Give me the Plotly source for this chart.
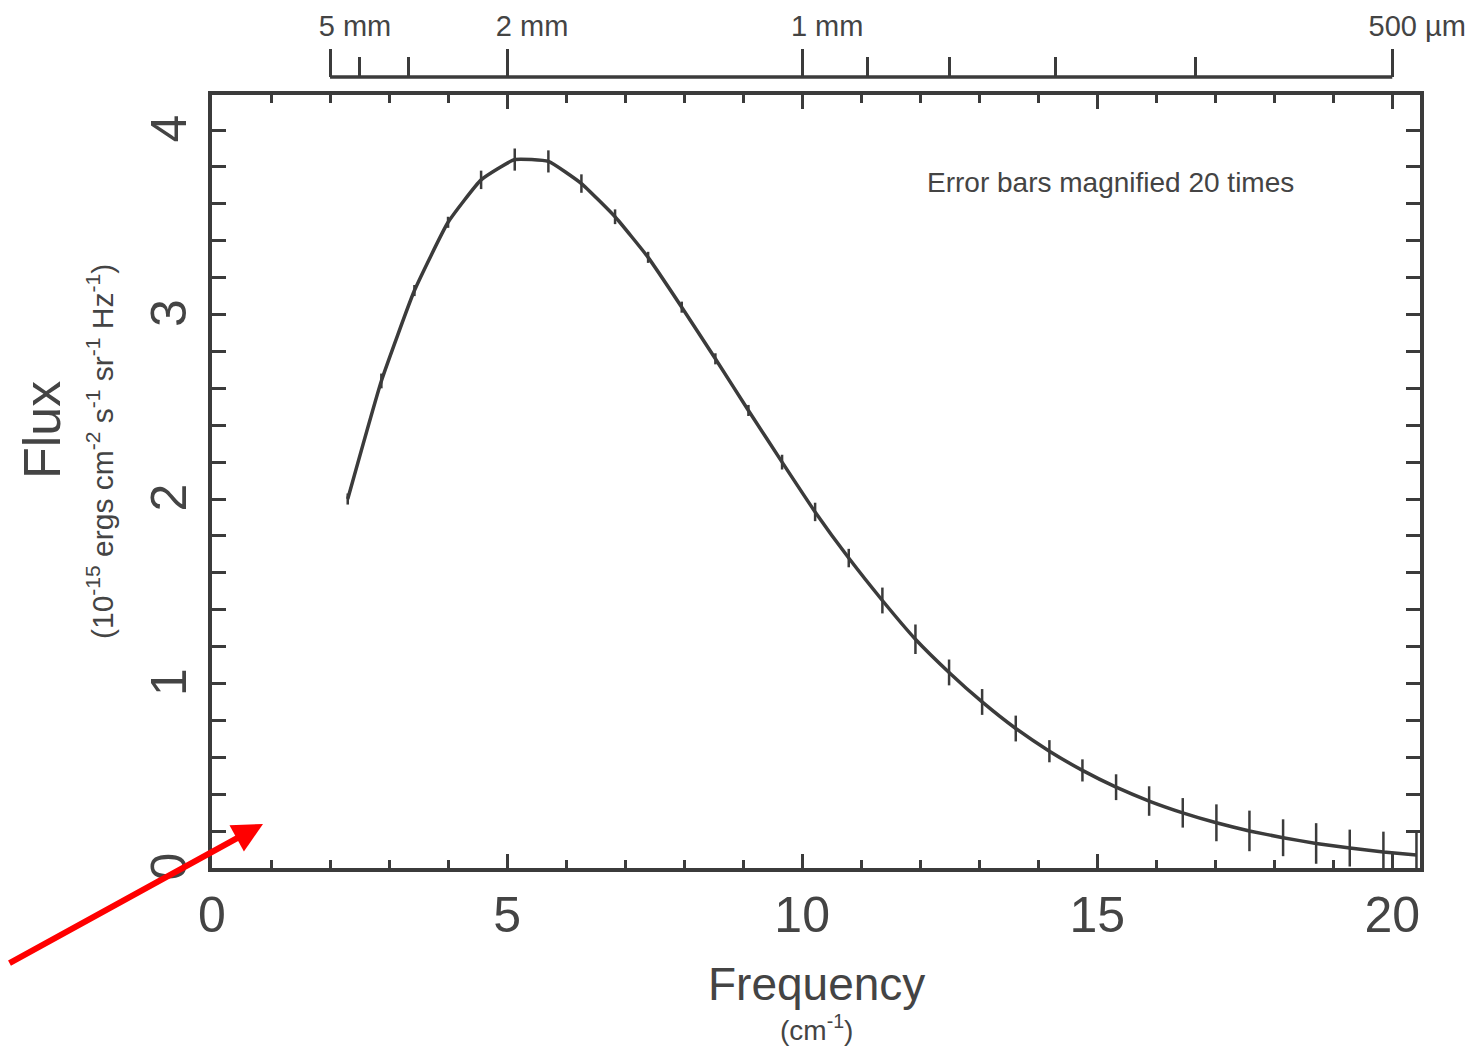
import plotly.graph_objects as go

# ---- data ----
frequency = [2.30, 2.87, 3.43, 4.00, 4.56, 5.13, 5.70, 6.26, 6.83, 7.39, 7.96,
             8.53, 9.09, 9.66, 10.22, 10.79, 11.36, 11.92, 12.49, 13.05, 13.62,
             14.19, 14.75, 15.32, 15.88, 16.45, 17.02, 17.58, 18.15, 18.71,
             19.28, 19.85, 20.41]
flux = [2.00, 2.64, 3.13, 3.50, 3.73, 3.84, 3.83, 3.71, 3.53, 3.31, 3.04,
        2.76, 2.48, 2.20, 1.93, 1.68, 1.45, 1.24, 1.06, 0.90, 0.756,
        0.633, 0.529, 0.438, 0.363, 0.299, 0.245, 0.201, 0.164, 0.133,
        0.108, 0.087, 0.071]
# error bar half-lengths as drawn (already magnified 20x)
error_shown = [0.03, 0.04, 0.03, 0.03, 0.05, 0.06, 0.06, 0.05, 0.04, 0.03, 0.03,
               0.03, 0.03, 0.04, 0.05, 0.05, 0.07, 0.08, 0.07, 0.07, 0.07,
               0.06, 0.06, 0.07, 0.08, 0.08, 0.10, 0.11, 0.10, 0.11,
               0.10, 0.11, 0.13]

x_ticks = [0, 5, 10, 15, 20]
y_ticks = [0, 1, 2, 3, 4]
wl_major_mm = [5, 2, 1, 0.5]
wl_major_text = ["5 mm", "2 mm", "1 mm", "500 µm"]
wl_minor_mm = [4, 3, 0.9, 0.8, 0.7, 0.6]

X_MAX = 20.47
Y_MAX = 4.19

# ---- figure ----
OFF = 8  # default page body margin
W, H = 1474 - OFF, 1053 - OFF
ML, MR, MT, MB = 212 - OFF, 54, 77 - OFF, 185
plot_w = W - ML - MR
plot_h = H - MT - MB
main_top_px = 95
y_dom_top = 1 - (main_top_px - OFF - MT) / plot_h

ink = "#3b3b3b"
font_family = "Liberation Sans, Arial, Helvetica, sans-serif"

def px_to_paper_x(p):
    return (p - OFF - ML) / plot_w

def px_to_paper_y(p):
    return (H - MB - (p - OFF)) / plot_h

wl_major_vals = [10.0 / w for w in wl_major_mm]
wl_minor_vals = [10.0 / w for w in wl_minor_mm]

fig = go.Figure()
fig.add_trace(go.Scatter(
    x=frequency, y=flux, mode="lines",
    line=dict(color=ink, width=3.5, shape="spline", smoothing=0.4),
    error_y=dict(type="data", array=error_shown, visible=True,
                 width=0, thickness=2.5, color=ink),
    showlegend=False, hoverinfo="skip",
))
# invisible trace that carries the wavelength axis
fig.add_trace(go.Scatter(
    x=[min(wl_major_vals), max(wl_major_vals)], y=[None, None],
    xaxis="x2", yaxis="y", mode="lines", showlegend=False, hoverinfo="skip",
))

fig.update_layout(
    width=W, height=H,
    margin=dict(l=ML, r=MR, t=MT, b=MB, autoexpand=False),
    paper_bgcolor="white", plot_bgcolor="white",
    font=dict(family=font_family, color=ink),
    xaxis=dict(
        range=[0, X_MAX], tickvals=x_ticks, ticks="inside", ticklen=14,
        tickwidth=3, tickcolor=ink, showline=True, linewidth=3.5,
        linecolor=ink, mirror="allticks", showgrid=False, zeroline=False,
        tickfont=dict(size=50, color="#444"), ticklabelstandoff=0,
        automargin=False,
        minor=dict(dtick=1, ticks="inside", ticklen=8, tickwidth=2.5,
                   tickcolor=ink, showgrid=False),
    ),
    yaxis=dict(
        domain=[0, y_dom_top],
        range=[0, Y_MAX], tickvals=y_ticks, ticks="inside", ticklen=14,
        tickwidth=3, tickcolor=ink, showline=True, linewidth=3.5,
        linecolor=ink, mirror="allticks", showgrid=False, zeroline=False,
        tickfont=dict(size=50, color="#444"), tickangle=-90,
        ticklabelstandoff=2, ticklabelshift=6, automargin=False,
        minor=dict(dtick=0.2, ticks="inside", ticklen=8, tickwidth=2.5,
                   tickcolor=ink, showgrid=False),
    ),
    xaxis2=dict(
        overlaying="x", anchor="free", position=1, side="top",
        range=[0, X_MAX],
        tickvals=wl_major_vals, ticktext=wl_major_text,
        ticks="outside", ticklen=28, tickwidth=3, tickcolor=ink,
        showline=False, showgrid=False, zeroline=False,
        tickfont=dict(size=29, color="#444"),
        ticklabelshift=25, ticklabelstandoff=1, automargin=False,
        minor=dict(tickvals=wl_minor_vals, ticks="outside", ticklen=20,
                   tickwidth=2.5, tickcolor=ink, showgrid=False),
    ),
    shapes=[dict(type="line", xref="x2", yref="paper",
                 x0=min(wl_major_vals), x1=max(wl_major_vals), y0=1, y1=1,
                 line=dict(color=ink, width=3.5))],
)

annotations = [
    dict(text="Frequency", x=px_to_paper_x(816), y=px_to_paper_y(984),
         xref="paper", yref="paper", showarrow=False,
         font=dict(size=46, color="#444"), xanchor="center", yanchor="middle"),
    dict(text="(cm<sup>-1</sup>)", x=px_to_paper_x(816), y=px_to_paper_y(1028),
         xref="paper", yref="paper", showarrow=False,
         font=dict(size=28, color="#444"), xanchor="center", yanchor="middle"),
    dict(text="Flux", x=px_to_paper_x(42), y=px_to_paper_y(430), xref="paper",
         yref="paper", showarrow=False, font=dict(size=52, color="#444"),
         textangle=-90, xanchor="center", yanchor="middle"),
    dict(text="(10<sup>-15</sup> ergs cm<sup>-2</sup> s<sup>-1</sup> sr<sup>-1</sup> Hz<sup>-1</sup>)",
         x=px_to_paper_x(100), y=px_to_paper_y(452), xref="paper",
         yref="paper", showarrow=False, font=dict(size=30, color="#444"),
         textangle=-90, xanchor="center", yanchor="middle"),
    dict(text="Error bars magnified 20 times", x=px_to_paper_x(1110),
         y=px_to_paper_y(182), xref="paper", yref="paper", showarrow=False,
         font=dict(size=28, color="#444"), xanchor="center", yanchor="middle"),
    dict(text="", x=px_to_paper_x(263), y=px_to_paper_y(824), xref="paper",
         yref="paper", showarrow=True, ax=-255, ay=140, arrowcolor="#ff0000",
         arrowwidth=6, arrowhead=2, arrowsize=1, standoff=0),
]
fig.update_layout(annotations=annotations)

fig.write_html("out.html")
